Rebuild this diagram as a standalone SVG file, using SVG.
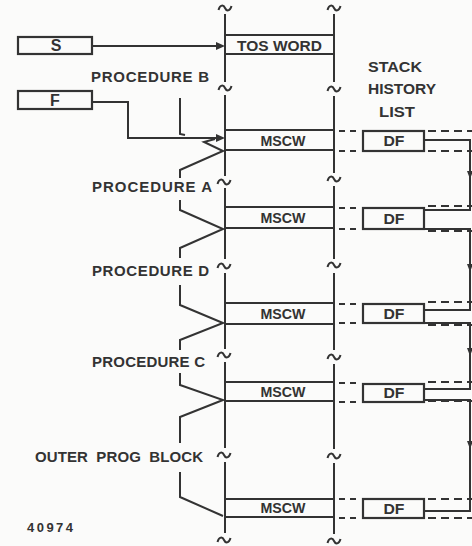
<svg xmlns="http://www.w3.org/2000/svg" width="472" height="546" viewBox="0 0 472 546">
<style>
.ln{fill:none;stroke:#333;stroke-width:2}
.bx{fill:none;stroke:#333;stroke-width:2.2}
.ds{fill:none;stroke:#333;stroke-width:2;stroke-dasharray:6,5}
.dr{fill:none;stroke:#333;stroke-width:2;stroke-dasharray:8,5}
.t{font-family:"Liberation Sans",Arial,sans-serif;font-weight:bold;fill:#333;font-size:15px}
.tc{text-anchor:middle}
.ah{fill:#333}
</style>
<defs>
<path id="tl" d="M-6.5,2 C-5,-3.5 -1.5,-3.5 0,0 C1.5,3.5 5,3.5 6.5,-2" class="ln"/>
</defs>
<rect width="472" height="546" fill="#fbfbfa"/>
<g id="stack-lines">
<path class="ln" d="M225,14 V82 M225,95 V176 M225,188 V259 M225,273 V349 M225,362 V448 M225,462 V533"/>
<path class="ln" d="M334,14 V82 M334,96 V173 M334,186 V259 M334,273 V350 M334,364 V449 M334,463 V534"/>
<use href="#tl" x="225" y="8"/><use href="#tl" x="334" y="8"/>
<use href="#tl" x="225" y="88"/><use href="#tl" x="334" y="89"/>
<use href="#tl" x="224" y="182"/><use href="#tl" x="334" y="179"/>
<use href="#tl" x="224" y="266"/><use href="#tl" x="334" y="265"/>
<use href="#tl" x="224" y="355"/><use href="#tl" x="334" y="357"/>
<use href="#tl" x="224" y="455"/><use href="#tl" x="334" y="456"/>
<use href="#tl" x="224" y="540"/><use href="#tl" x="334" y="541"/>
</g>
<g id="S"><rect class="bx" x="18" y="37" width="74" height="17"/><text class="t tc" x="56" y="51" style="font-size:16px">S</text></g>
<g id="F"><rect class="bx" x="18" y="91" width="74" height="18"/><text class="t tc" x="55" y="106" style="font-size:16px">F</text></g>
<g id="tos"><path class="ln" d="M225,35 H334 M225,54 H334"/><text class="t" x="237" y="51" textLength="85" lengthAdjust="spacingAndGlyphs">TOS WORD</text></g>
<g id="shl-label"><text class="t tc" x="395" y="72" textLength="54" lengthAdjust="spacingAndGlyphs">STACK</text><text class="t tc" x="402" y="94" textLength="68" lengthAdjust="spacingAndGlyphs">HISTORY</text><text class="t tc" x="397" y="117" textLength="36" lengthAdjust="spacingAndGlyphs">LIST</text></g>
<g id="mscw1"><path class="ln" d="M225,130 H334 M225,150 H334"/><text class="t tc" x="283" y="146" textLength="45" lengthAdjust="spacingAndGlyphs">MSCW</text></g>
<g id="mscw2"><path class="ln" d="M225,207 H334 M225,228 H334"/><text class="t tc" x="283" y="223" textLength="45" lengthAdjust="spacingAndGlyphs">MSCW</text></g>
<g id="mscw3"><path class="ln" d="M225,303 H334 M225,324 H334"/><text class="t tc" x="283" y="319" textLength="45" lengthAdjust="spacingAndGlyphs">MSCW</text></g>
<g id="mscw4"><path class="ln" d="M225,382 H334 M225,401 H334"/><text class="t tc" x="283" y="397" textLength="45" lengthAdjust="spacingAndGlyphs">MSCW</text></g>
<g id="mscw5"><path class="ln" d="M225,499 H334 M225,517 H334"/><text class="t tc" x="283" y="513" textLength="45" lengthAdjust="spacingAndGlyphs">MSCW</text></g>
<g id="df1"><rect class="bx" x="363" y="131" width="61" height="20"/><text class="t tc" x="394" y="146" textLength="21" lengthAdjust="spacingAndGlyphs">DF</text></g>
<g id="df2"><rect class="bx" x="363" y="208" width="61" height="21"/><text class="t tc" x="394" y="224" textLength="21" lengthAdjust="spacingAndGlyphs">DF</text></g>
<g id="df3"><rect class="bx" x="363" y="304" width="61" height="19"/><text class="t tc" x="394" y="319" textLength="21" lengthAdjust="spacingAndGlyphs">DF</text></g>
<g id="df4"><rect class="bx" x="363" y="384" width="61" height="18"/><text class="t tc" x="394" y="398" textLength="21" lengthAdjust="spacingAndGlyphs">DF</text></g>
<g id="df5"><rect class="bx" x="363" y="499" width="61" height="19"/><text class="t tc" x="394" y="514" textLength="21" lengthAdjust="spacingAndGlyphs">DF</text></g>
<g id="labels">
<text class="t" x="91" y="82" textLength="118" lengthAdjust="spacing">PROCEDURE B</text>
<text class="t" x="92" y="192" textLength="120" lengthAdjust="spacing">PROCEDURE A</text>
<text class="t" x="92" y="276" textLength="117" lengthAdjust="spacing">PROCEDURE D</text>
<text class="t" x="92" y="367" textLength="113" lengthAdjust="spacing">PROCEDURE C</text>
<text class="t" x="35" y="462" textLength="168" lengthAdjust="spacing" word-spacing="4">OUTER PROG BLOCK</text>
<text class="t" x="27" y="532" style="font-size:13px" textLength="46" lengthAdjust="spacing">40974</text>
</g>
<g id="connectors">
<path class="ln" d="M92,46 H218"/><path class="ah" d="M225,46 L216,42 L216,50 Z"/>
<path class="ln" d="M92,102 H128 V138 H218"/><path class="ah" d="M225,138 L216,134 L216,142 Z"/>
<path class="ln" d="M180,98 V134 L185,135"/>
<path class="ln" d="M215,139 L204,142 L223,151 L180,170 V178"/>
<path class="ln" d="M180,200 V210 L223,229 L180,248 V258"/>
<path class="ln" d="M180,285 V305 L223,323 L180,340 V350"/>
<path class="ln" d="M180,373 V385 L223,400 L180,417 V443"/>
<path class="ln" d="M180,472 V497 L223,516"/>
<path class="ds" d="M339,131 H358 M339,151 H358 M339,208 H358 M339,229 H358 M339,304 H358 M339,323 H358 M339,383 H358 M339,402 H358 M339,499 H358 M339,518 H358"/>
<path class="dr" d="M428,131 H472 M428,151 H472 M428,206 H472 M428,231 H472 M428,302 H472 M428,325 H472 M428,382 H472 M428,401 H472 M428,499 H472 M428,518 H472"/>
<path class="ln" d="M424,140 H470 V210 H424"/>
<path class="ln" d="M424,229 H470 V310 H424"/>
<path class="ln" d="M424,323 H470 V389 H424"/>
<path class="ln" d="M424,400 H470 V511 H424"/>
<path class="ah" d="M470,179 L467,171 L473,171 Z M470,272 L467,264 L473,264 Z M470,356 L467,348 L473,348 Z M470,449 L467,441 L473,441 Z"/>
</g>
</svg>
